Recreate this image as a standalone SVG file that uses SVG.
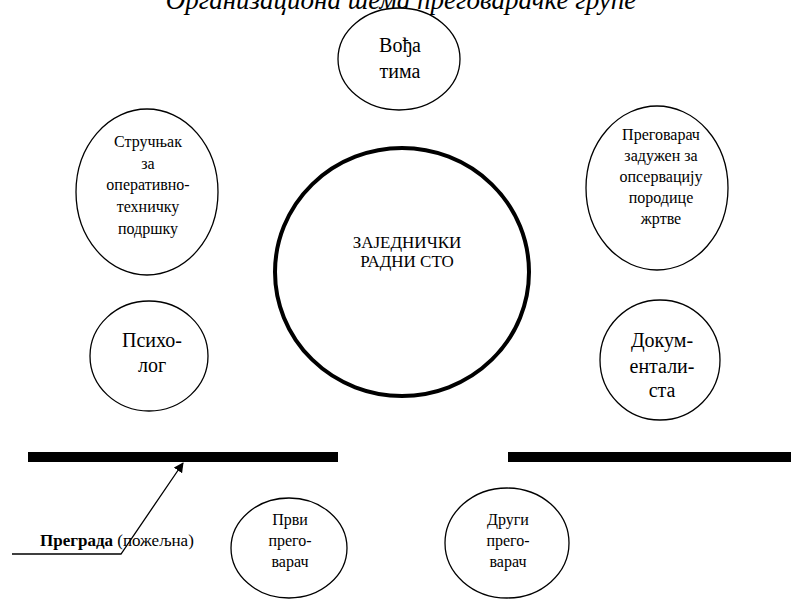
<svg xmlns="http://www.w3.org/2000/svg" width="791" height="599" viewBox="0 0 791 599">
<style>
text{font-family:"Liberation Serif","Times New Roman","DejaVu Serif",serif;fill:#000;text-anchor:middle}
.n{fill:#fff;stroke:#000;stroke-width:1.3}
.big{fill:#fff;stroke:#000;stroke-width:4}
.t16{font-size:16px}
.t17{font-size:17px}
.t20{font-size:20px}
.title{font-size:27px;font-style:italic}
</style>
<defs>
<marker id="ah" markerWidth="10" markerHeight="10" refX="9" refY="5" orient="auto" markerUnits="userSpaceOnUse">
<path d="M0,0 L10,5 L0,10 Z" fill="#000"/>
</marker>
</defs>
<rect width="791" height="599" fill="#fff"/>
<text class="title" x="401" y="9">Организациона шема преговарачке групе</text>
<g id="vodja"><ellipse class="n" cx="399" cy="59" rx="61" ry="51"/>
<text class="t20"><tspan x="400" y="52">Вођа</tspan><tspan x="400" y="78">тима</tspan></text></g>
<g id="strucnjak"><ellipse class="n" cx="147" cy="192" rx="71" ry="83"/>
<text class="t16"><tspan x="148" y="147">Стручњак</tspan><tspan x="148" y="169">за</tspan><tspan x="148" y="190">оперативно-</tspan><tspan x="148" y="212">техничку</tspan><tspan x="148" y="234">подршку</tspan></text></g>
<g id="pregovarac"><ellipse class="n" cx="657" cy="188" rx="71" ry="82"/>
<text class="t16"><tspan x="661" y="140">Преговарач</tspan><tspan x="661" y="161">задужен за</tspan><tspan x="661" y="182">опсервацију</tspan><tspan x="661" y="203">породице</tspan><tspan x="661" y="224">жртве</tspan></text></g>
<g id="sto"><ellipse class="big" cx="402" cy="272" rx="127" ry="124"/>
<text class="t17"><tspan x="407" y="248">ЗАЈЕДНИЧКИ</tspan><tspan x="407" y="267">РАДНИ СТО</tspan></text></g>
<g id="psiholog"><ellipse class="n" cx="149" cy="356" rx="59" ry="55"/>
<text class="t20"><tspan x="152" y="347">Психо-</tspan><tspan x="152" y="372">лог</tspan></text></g>
<g id="dokumentalista"><ellipse class="n" cx="660" cy="360" rx="60" ry="60"/>
<text class="t20"><tspan x="662" y="347">Докум-</tspan><tspan x="662" y="373">ентали-</tspan><tspan x="662" y="397">ста</tspan></text></g>
<g id="pregrada-leva"><rect x="28" y="452" width="310" height="10" fill="#000"/></g>
<g id="pregrada-desna"><rect x="508" y="452" width="283" height="10" fill="#000"/></g>
<g id="prvi"><ellipse class="n" cx="289" cy="548" rx="58" ry="50"/>
<text class="t16"><tspan x="290" y="525">Први</tspan><tspan x="290" y="546">прего-</tspan><tspan x="290" y="567">варач</tspan></text></g>
<g id="drugi"><ellipse class="n" cx="507" cy="543" rx="62" ry="55"/>
<text class="t16"><tspan x="508" y="525">Други</tspan><tspan x="508" y="546">прего-</tspan><tspan x="508" y="567">варач</tspan></text></g>
<g id="connectors">
<polyline points="12,554 121,554 183,463" fill="none" stroke="#000" stroke-width="1.3" marker-end="url(#ah)"/>
</g>
<text class="t17" x="40" y="546" style="text-anchor:start"><tspan font-weight="bold">Преграда</tspan> (пожељна)</text>
</svg>
